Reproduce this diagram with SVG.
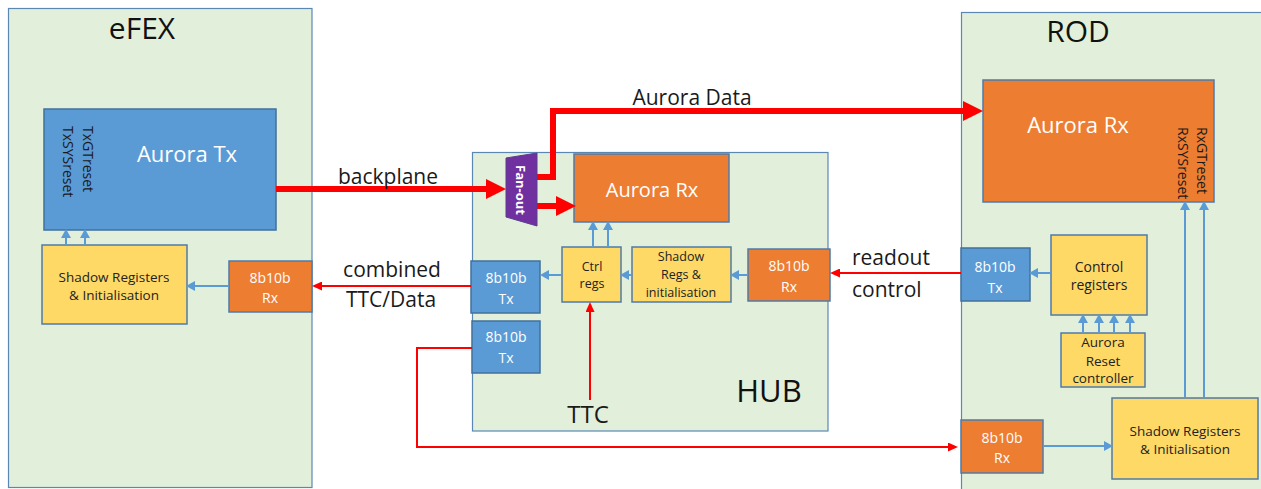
<svg xmlns="http://www.w3.org/2000/svg" width="1261" height="489" viewBox="0 0 1261 489">
<style>
.cont{fill:#E2EFDA;stroke:#5B87B5;stroke-width:1.2}
.blue{fill:#5B9BD5;stroke:#41719C;stroke-width:1.5}
.orange{fill:#ED7D31;stroke:#4F7BA8;stroke-width:1.5}
.yellow{fill:#FFD966;stroke:#4F7BA8;stroke-width:1.5}
text{font-family:"Open Sans","Liberation Sans",sans-serif}
.big{font-size:30px;fill:#111;text-anchor:middle}
.lbl{font-size:21px;fill:#1a1a1a;text-anchor:middle}
.wt{fill:#fff;text-anchor:middle}
.dk{fill:#222;text-anchor:middle}
.thick{stroke:#FF0000;stroke-width:6;fill:none}
.thin{stroke:#FF0000;stroke-width:2;fill:none}
.sb{stroke:#5B9BD5;stroke-width:2;fill:none}
</style>
<defs>
<marker id="hT" markerUnits="userSpaceOnUse" markerWidth="20" markerHeight="20" refX="10" refY="10" orient="auto"><path d="M0,0 L20,10 L0,20 z" fill="#FF0000"/></marker>
<marker id="hR" markerUnits="userSpaceOnUse" markerWidth="10" markerHeight="9" refX="5" refY="4.5" orient="auto"><path d="M0,0 L10,4.5 L0,9 z" fill="#FF0000"/></marker>
<marker id="hB" markerUnits="userSpaceOnUse" markerWidth="9" markerHeight="10" refX="4" refY="5" orient="auto"><path d="M0,0 L9,5 L0,10 z" fill="#5B9BD5"/></marker>
</defs>

<g id="eFEX">
<rect class="cont" x="8.5" y="8.5" width="303.5" height="479"/>
<text class="big" x="142" y="39" font-size="29">eFEX</text>
</g>
<g id="HUB">
<rect class="cont" x="472.5" y="152.5" width="355.5" height="278.5"/>
<text class="big" x="769" y="402" style="font-size:31px">HUB</text>
</g>
<g id="ROD">
<rect class="cont" x="961.5" y="12.5" width="310" height="490"/>
<text class="big" x="1078" y="42">ROD</text>
</g>

<g id="efex-aurora-tx">
<rect class="blue" x="44" y="109" width="232" height="121"/>
<text class="wt" x="187" y="162" font-size="22">Aurora Tx</text>
<text x="83" y="126" font-size="14" fill="#1a1a1a" transform="rotate(90 83 126)">TxGTreset</text>
<text x="63" y="126" font-size="14" fill="#1a1a1a" transform="rotate(90 63 126)">TxSYSreset</text>
</g>
<g id="efex-shadow">
<rect class="yellow" x="42" y="245" width="145" height="79"/>
<text class="dk" x="114" y="282" font-size="13.5">Shadow Registers</text>
<text class="dk" x="114" y="300" font-size="13.5">&amp; Initialisation</text>
</g>
<g id="efex-rx">
<rect class="orange" x="229" y="261" width="83" height="51"/>
<text class="wt" x="270" y="283" font-size="14">8b10b</text>
<text class="wt" x="270" y="303" font-size="14">Rx</text>
</g>

<g id="hub-fanout">
<path d="M506,158 L537,153 L537,226 L506,217 z" fill="#7030A0" stroke="#5B3D8A" stroke-width="1"/>
<text x="521" y="190" font-size="13" font-weight="bold" fill="#fff" text-anchor="middle" dominant-baseline="central" transform="rotate(90 521 190)">Fan-out</text>
</g>
<g id="hub-aurora-rx">
<rect class="orange" x="574" y="154" width="155" height="68"/>
<text class="wt" x="652" y="197" font-size="20">Aurora Rx</text>
</g>
<g id="hub-ctrl">
<rect class="yellow" x="562" y="247" width="59" height="55"/>
<text class="dk" x="592" y="271" font-size="12.5">Ctrl</text>
<text class="dk" x="592" y="288" font-size="12.5">regs</text>
</g>
<g id="hub-shadow">
<rect class="yellow" x="632" y="247" width="99" height="55"/>
<text class="dk" x="681" y="261" font-size="12.5">Shadow</text>
<text class="dk" x="681" y="279" font-size="12.5">Regs &amp;</text>
<text class="dk" x="681" y="297" font-size="12.5">initialisation</text>
</g>
<g id="hub-rx">
<rect class="orange" x="748" y="249" width="82" height="52"/>
<text class="wt" x="789" y="271" font-size="14">8b10b</text>
<text class="wt" x="789" y="292" font-size="14">Rx</text>
</g>
<g id="hub-tx1">
<rect class="blue" x="471" y="261" width="69" height="52"/>
<text class="wt" x="506" y="283" font-size="14">8b10b</text>
<text class="wt" x="506" y="304" font-size="14">Tx</text>
</g>
<g id="hub-tx2">
<rect class="blue" x="472" y="321" width="68" height="52"/>
<text class="wt" x="506" y="342" font-size="14">8b10b</text>
<text class="wt" x="506" y="363" font-size="14">Tx</text>
</g>

<g id="rod-aurora-rx">
<rect class="orange" x="983" y="80" width="231" height="122"/>
<text class="wt" x="1078" y="133" font-size="22">Aurora Rx</text>
<text x="1197" y="127" font-size="14" fill="#1a1a1a" transform="rotate(90 1197 127)">RxGTreset</text>
<text x="1178" y="127" font-size="14" fill="#1a1a1a" transform="rotate(90 1178 127)">RxSYSreset</text>
</g>
<g id="rod-tx">
<rect class="blue" x="961" y="248" width="69" height="53"/>
<text class="wt" x="995" y="272" font-size="14">8b10b</text>
<text class="wt" x="995" y="293" font-size="14">Tx</text>
</g>
<g id="rod-control">
<rect class="yellow" x="1051" y="235" width="96" height="80"/>
<text class="dk" x="1099" y="272" font-size="14">Control</text>
<text class="dk" x="1099" y="290" font-size="14">registers</text>
</g>
<g id="rod-reset">
<rect class="yellow" x="1061" y="333" width="84" height="54"/>
<text class="dk" x="1103" y="347" font-size="13.5">Aurora</text>
<text class="dk" x="1103" y="366" font-size="13.5">Reset</text>
<text class="dk" x="1103" y="383" font-size="13.5">controller</text>
</g>
<g id="rod-shadow">
<rect class="yellow" x="1112" y="398" width="146" height="81"/>
<text class="dk" x="1185" y="436" font-size="13.5">Shadow Registers</text>
<text class="dk" x="1185" y="454" font-size="13.5">&amp; Initialisation</text>
</g>
<g id="rod-rx">
<rect class="orange" x="961" y="420" width="82" height="53"/>
<text class="wt" x="1002" y="443" font-size="14">8b10b</text>
<text class="wt" x="1002" y="463" font-size="14">Rx</text>
</g>

<g id="connectors">
<path class="thick" d="M276,189 H496" marker-end="url(#hT)"/>
<path class="thick" d="M537,177 H553 V111 H973" stroke-linejoin="miter" marker-end="url(#hT)"/>
<path class="thick" d="M537,206 H566" marker-end="url(#hT)"/>
<path class="thin" d="M471,286 H317" marker-end="url(#hR)"/>
<path class="thin" d="M961,273 H835" marker-end="url(#hR)"/>
<path class="thin" d="M590,400 V307" marker-end="url(#hR)"/>
<path class="thin" d="M472,348 H417 V447 H953" marker-end="url(#hR)"/>
<path class="sb" d="M229,286 H191" marker-end="url(#hB)"/>
<path class="sb" d="M66,245 V234" marker-end="url(#hB)"/>
<path class="sb" d="M85,245 V234" marker-end="url(#hB)"/>
<path class="sb" d="M748,275 H735" marker-end="url(#hB)"/>
<path class="sb" d="M632,275 H625" marker-end="url(#hB)"/>
<path class="sb" d="M562,275 H545" marker-end="url(#hB)"/>
<path class="sb" d="M593,247 V226" marker-end="url(#hB)"/>
<path class="sb" d="M608,247 V226" marker-end="url(#hB)"/>
<path class="sb" d="M1051,273 H1034" marker-end="url(#hB)"/>
<path class="sb" d="M1083,333 V319" marker-end="url(#hB)"/>
<path class="sb" d="M1099,333 V319" marker-end="url(#hB)"/>
<path class="sb" d="M1114,333 V319" marker-end="url(#hB)"/>
<path class="sb" d="M1130,333 V319" marker-end="url(#hB)"/>
<path class="sb" d="M1043,446 H1108" marker-end="url(#hB)"/>
<path class="sb" d="M1185,398 V206" marker-end="url(#hB)"/>
<path class="sb" d="M1204,398 V206" marker-end="url(#hB)"/>
<text class="lbl" x="388" y="184">backplane</text>
<text class="lbl" x="692" y="105">Aurora Data</text>
<text class="lbl" x="392" y="277">combined</text>
<text class="lbl" x="391" y="307">TTC/Data</text>
<text class="lbl" x="852" y="265" text-anchor="start" style="text-anchor:start">readout</text>
<text class="lbl" x="852" y="297" style="text-anchor:start">control</text>
<text class="lbl" x="588" y="423" style="font-size:24px">TTC</text>
</g>
</svg>
